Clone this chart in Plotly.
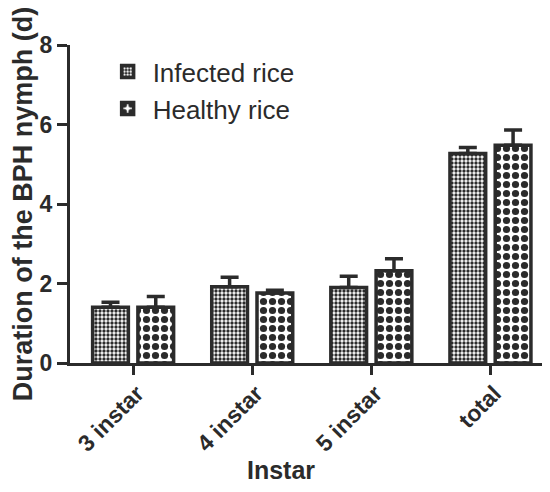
import plotly.graph_objects as go

categories = ["3 instar", "4 instar", "5 instar", "total"]
infected = [1.40, 1.92, 1.90, 5.27]
infected_err = [0.13, 0.24, 0.28, 0.15]
healthy = [1.40, 1.76, 2.32, 5.48]
healthy_err = [0.27, 0.07, 0.30, 0.38]
y_ticks = [0, 2, 4, 6, 8]

dark = "#2b2b2b"
font_family = "Arial, Liberation Sans, sans-serif"

fig = go.Figure()
fig.add_trace(go.Bar(
    name="Infected rice", x=categories, y=infected,
    width=0.30, offset=-0.34,
    marker=dict(color="white", line=dict(color=dark, width=3.5),
                pattern=dict(shape=".", size=4, solidity=0.55, fgcolor=dark,
                             fgopacity=1, bgcolor="white", fillmode="overlay")),
    error_y=dict(type="data", symmetric=False, array=infected_err,
                 arrayminus=[0] * len(infected), color=dark, thickness=3.5, width=9),
))
fig.add_trace(go.Bar(
    name="Healthy rice", x=categories, y=healthy,
    width=0.30, offset=0.04,
    marker=dict(color="white", line=dict(color=dark, width=3.5),
                pattern=dict(shape=".", size=9, solidity=0.5, fgcolor=dark,
                             fgopacity=1, bgcolor="white", fillmode="overlay")),
    error_y=dict(type="data", symmetric=False, array=healthy_err,
                 arrayminus=[0] * len(healthy), color=dark, thickness=3.5, width=9),
))

fig.update_layout(
    width=550, height=492,
    margin=dict(l=62, r=8, t=37, b=137),
    paper_bgcolor="white", plot_bgcolor="white",
    font=dict(family=font_family, color=dark),
    barmode="group",
    showlegend=True,
    legend=dict(x=0.068, y=0.99, xanchor="left", yanchor="top",
                font=dict(size=26, color=dark), bgcolor="rgba(0,0,0,0)",
                tracegroupgap=2, itemwidth=40),
    xaxis=dict(
        range=[-0.53, 3.5], showline=True, linewidth=3, linecolor=dark,
        ticks="outside", ticklen=9, tickwidth=2.5, tickcolor=dark,
        tickangle=-45, tickfont=dict(size=23, weight="bold", color=dark),
        ticklabelstandoff=-4, ticklabelshift=4,
        showgrid=False, zeroline=False,
    ),
    yaxis=dict(
        range=[0, 8], tickvals=y_ticks, showline=True, linewidth=3, linecolor=dark,
        ticks="outside", ticklen=10, tickwidth=3, tickcolor=dark,
        tickfont=dict(size=23, weight="bold", color=dark),
        showgrid=False, zeroline=False,
        title=dict(text="Duration of the BPH nymph (d)", standoff=2,
                   font=dict(size=27, weight="bold", color=dark)),
    ),
    annotations=[dict(text="Instar", xref="paper", yref="paper",
                      x=0.44, y=-0.336, xanchor="center", yanchor="middle",
                      showarrow=False,
                      font=dict(size=25, weight="bold", color=dark))],
)

fig.write_html("out.html")
